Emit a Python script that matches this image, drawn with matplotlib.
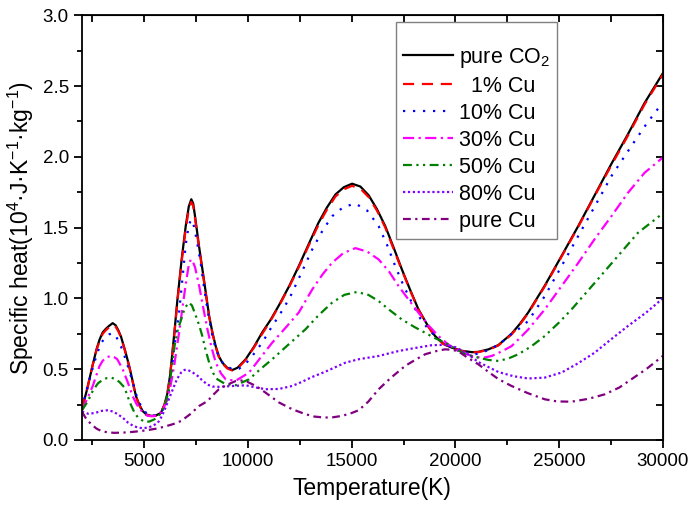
import numpy as np
import matplotlib.pyplot as plt
from matplotlib.ticker import MultipleLocator

plt.rcParams['font.family'] = ['Liberation Sans', 'DejaVu Sans']
plt.rcParams['mathtext.fontset'] = 'custom'
plt.rcParams['mathtext.rm'] = 'Liberation Sans'
plt.rcParams['mathtext.it'] = 'Liberation Sans'

# ---- data: T in K, Cp in 1e4 J/(K kg) ----
T_co2 = [2000, 2250, 2500, 2700, 2850, 3000, 3150, 3300, 3480, 3620,
         3750, 3880, 4080, 4280, 4450, 4600, 4760, 4920, 5100, 5320,
         5550, 5800, 5980, 6120, 6250, 6360, 6480, 6600, 6800, 7000,
         7150, 7270, 7360, 7450, 7640, 7880, 8130, 8300, 8450, 8600,
         8770, 9000, 9250, 9500, 9890, 10300, 10690, 11100, 11490, 12000,
         12450, 12950, 13400, 13800, 14220, 14620, 15020, 15420, 15820, 16220,
         16620, 17020, 17420, 17820, 18220, 18620, 19020, 19420, 19820, 20300,
         20800, 21100, 21600, 22070, 22710, 23110, 23510, 24310, 25120, 25920,
         26720, 27520, 28320, 29120, 30000]
cp_co2 = [0.22, 0.36, 0.52, 0.64, 0.71, 0.76, 0.785, 0.805, 0.825, 0.81,
          0.775, 0.73, 0.63, 0.52, 0.41, 0.31, 0.25, 0.205, 0.18, 0.17,
          0.172, 0.19, 0.25, 0.33, 0.46, 0.62, 0.80, 0.99, 1.27, 1.51,
          1.65, 1.70, 1.67, 1.58, 1.37, 1.13, 0.875, 0.75, 0.66, 0.59,
          0.545, 0.51, 0.494, 0.51, 0.57, 0.66, 0.76, 0.85, 0.95, 1.09,
          1.228, 1.39, 1.534, 1.64, 1.734, 1.785, 1.81, 1.79, 1.728, 1.63,
          1.51, 1.36, 1.205, 1.06, 0.922, 0.82, 0.734, 0.68, 0.652, 0.63,
          0.62, 0.622, 0.64, 0.67, 0.75, 0.82, 0.9, 1.09, 1.3, 1.51,
          1.73, 1.95, 2.16, 2.38, 2.59]

T_cu1 = T_co2
cp_cu1 = [0.22, 0.36, 0.52, 0.635, 0.70, 0.75, 0.775, 0.795, 0.815, 0.80,
          0.768, 0.725, 0.625, 0.515, 0.405, 0.305, 0.245, 0.2, 0.177, 0.168,
          0.17, 0.19, 0.25, 0.33, 0.455, 0.61, 0.79, 0.98, 1.255, 1.49,
          1.63, 1.68, 1.655, 1.565, 1.36, 1.12, 0.87, 0.745, 0.655, 0.585,
          0.54, 0.505, 0.49, 0.505, 0.565, 0.655, 0.75, 0.845, 0.945, 1.085,
          1.22, 1.38, 1.52, 1.625, 1.72, 1.77, 1.795, 1.775, 1.715, 1.62,
          1.50, 1.35, 1.20, 1.055, 0.92, 0.815, 0.73, 0.677, 0.65, 0.628,
          0.618, 0.62, 0.637, 0.667, 0.745, 0.815, 0.895, 1.085, 1.295, 1.505,
          1.725, 1.94, 2.15, 2.37, 2.58]

T_cu10 = [2000, 2270, 2500, 2750, 2950, 3100, 3300, 3480, 3650, 3880,
          4080, 4280, 4480, 4680, 4880, 5080, 5400, 5650, 5880, 6050,
          6200, 6320, 6440, 6560, 6680, 6850, 7000, 7150, 7270, 7380,
          7520, 7720, 7880, 8050, 8250, 8450, 8700, 8930, 9250, 9570,
          9900, 10210, 10700, 11170, 11490, 12000, 12450, 13100, 13600, 14060,
          14600, 15180, 15750, 16300, 16700, 17100, 17500, 17900, 18300, 18700,
          19200, 19670, 20200, 20790, 21250, 21750, 22230, 22710, 23110, 23510,
          24310, 25120, 25920, 26720, 27520, 28480, 29200, 30000]
cp_cu10 = [0.22, 0.38, 0.5, 0.62, 0.69, 0.72, 0.745, 0.755, 0.73, 0.66,
           0.58, 0.49, 0.39, 0.287, 0.23, 0.193, 0.168, 0.18, 0.21, 0.27,
           0.356, 0.48, 0.64, 0.77, 0.90, 1.15, 1.38, 1.52, 1.557, 1.52,
           1.42, 1.25, 1.08, 0.92, 0.76, 0.64, 0.56, 0.522, 0.5, 0.503,
           0.54, 0.593, 0.69, 0.805, 0.875, 1.0, 1.14, 1.346, 1.48, 1.58,
           1.645, 1.67, 1.62, 1.51, 1.38, 1.228, 1.09, 0.97, 0.86, 0.781,
           0.71, 0.664, 0.625, 0.60, 0.615, 0.645, 0.69, 0.75, 0.79, 0.84,
           1.016, 1.228, 1.44, 1.65, 1.863, 2.075, 2.23, 2.385]

T_cu30 = [2000, 2250, 2515, 2700, 2840, 3000, 3200, 3400, 3550, 3700,
          3960, 4200, 4440, 4640, 4840, 5160, 5450, 5720, 5950, 6120,
          6280, 6440, 6560, 6680, 6850, 7000, 7130, 7240, 7340, 7450,
          7650, 7850, 8050, 8250, 8450, 8700, 8930, 9410, 10050, 10600,
          11170, 11800, 12450, 13100, 13600, 14060, 14600, 15180, 15750, 16300,
          16800, 17260, 17750, 18220, 18700, 19180, 19650, 20150, 20950, 21400,
          21750, 22230, 22710, 23110, 23510, 24310, 25120, 25920, 26720, 27520,
          28320, 29120, 30000]
cp_cu30 = [0.21, 0.29, 0.38, 0.46, 0.52, 0.56, 0.585, 0.593, 0.585, 0.57,
           0.5, 0.41, 0.31, 0.25, 0.21, 0.17, 0.168, 0.18, 0.23, 0.287,
           0.39, 0.52, 0.64, 0.758, 0.94, 1.10, 1.22, 1.275, 1.26, 1.22,
           1.087, 0.93, 0.78, 0.65, 0.546, 0.47, 0.428, 0.418, 0.475, 0.58,
           0.687, 0.79, 0.90, 1.063, 1.17, 1.252, 1.32, 1.355, 1.33, 1.275,
           1.19, 1.087, 0.99, 0.899, 0.81, 0.734, 0.675, 0.628, 0.585, 0.582,
           0.593, 0.625, 0.663, 0.72, 0.78, 0.922, 1.087, 1.25, 1.42, 1.58,
           1.746, 1.887, 1.995]

T_cu50 = [2000, 2290, 2530, 2770, 3000, 3200, 3410, 3600, 3800, 4050,
          4220, 4380, 4540, 4700, 5020, 5250, 5500, 5750, 5980, 6150,
          6300, 6460, 6620, 6780, 6950, 7150, 7300, 7480, 7650, 7800,
          7950, 8130, 8330, 8530, 8930, 9410, 10050, 10600, 11170, 12000,
          12770, 13400, 14060, 14650, 15250, 15800, 16300, 16850, 17420, 18000,
          18540, 19000, 19500, 20000, 20470, 21110, 21600, 22070, 22550, 23030,
          23650, 24310, 25000, 25600, 26720, 27840, 28800, 30000]
cp_cu50 = [0.21, 0.275, 0.35, 0.40, 0.425, 0.437, 0.44, 0.43, 0.41, 0.37,
           0.3, 0.24, 0.19, 0.158, 0.127, 0.13, 0.146, 0.18, 0.24, 0.33,
           0.48, 0.663, 0.78, 0.85, 0.93, 0.97, 0.95, 0.88, 0.81, 0.734,
           0.64, 0.546, 0.47, 0.428, 0.393, 0.386, 0.428, 0.5, 0.57, 0.68,
           0.781, 0.88, 0.97, 1.025, 1.045, 1.025, 0.981, 0.915, 0.851, 0.80,
           0.757, 0.72, 0.687, 0.645, 0.605, 0.581, 0.565, 0.558, 0.575, 0.605,
           0.66, 0.734, 0.83, 0.922, 1.11, 1.3, 1.463, 1.6]

T_cu80 = [2000, 2300, 2610, 2950, 3250, 3500, 3740, 3980, 4220, 4460,
          4700, 4940, 5180, 5420, 5660, 5860, 6060, 6220, 6380, 6580,
          6780, 6950, 7100, 7300, 7580, 7800, 8060, 8300, 8600, 9250,
          9890, 10400, 10850, 11490, 12130, 12600, 13100, 13700, 14700, 15340,
          16300, 17260, 18000, 18860, 19500, 20000, 20470, 21110, 22070, 22800,
          23510, 24300, 25120, 25900, 26720, 27500, 28320, 29200, 30000]
cp_cu80 = [0.2, 0.185, 0.19, 0.205, 0.21, 0.2, 0.18, 0.155, 0.122, 0.1,
           0.087, 0.083, 0.087, 0.1, 0.122, 0.17, 0.24, 0.3, 0.358, 0.43,
           0.476, 0.495, 0.494, 0.48, 0.452, 0.42, 0.39, 0.377, 0.375, 0.381,
           0.386, 0.37, 0.358, 0.36, 0.381, 0.41, 0.445, 0.48, 0.546, 0.57,
           0.593, 0.628, 0.648, 0.669, 0.672, 0.655, 0.62, 0.55, 0.48, 0.45,
           0.434, 0.44, 0.476, 0.54, 0.617, 0.71, 0.805, 0.9, 1.0]

T_pure = [2000, 2200, 2450, 2700, 2930, 3250, 3570, 4000, 4380, 4800,
          5180, 5600, 5980, 6400, 6780, 7200, 7650, 8060, 8300, 8600,
          9000, 9410, 9650, 9890, 10400, 10850, 11490, 12130, 12770, 13200,
          13700, 14100, 14540, 15000, 15340, 15800, 16300, 16900, 17580, 18000,
          18540, 19000, 19500, 19850, 20150, 20600, 21110, 21600, 22070, 22710,
          23500, 24310, 24900, 25600, 26400, 27200, 27900, 28480, 29200, 30000]
cp_pure = [0.198, 0.15, 0.11, 0.08, 0.063, 0.053, 0.05, 0.052, 0.056, 0.062,
           0.07, 0.08, 0.094, 0.112, 0.134, 0.18, 0.24, 0.275, 0.315, 0.358,
           0.39, 0.416, 0.42, 0.416, 0.38, 0.334, 0.265, 0.217, 0.182, 0.165,
           0.158, 0.16, 0.17, 0.19, 0.21, 0.27, 0.358, 0.44, 0.523, 0.56,
           0.605, 0.625, 0.64, 0.637, 0.625, 0.58, 0.534, 0.48, 0.43, 0.381,
           0.33, 0.287, 0.272, 0.27, 0.29, 0.322, 0.37, 0.428, 0.5, 0.593]

fig = plt.figure(figsize=(6.89, 5.08), dpi=100)
ax = fig.add_axes([0.119, 0.134, 0.843, 0.836])

lw = 1.6
ax.plot(T_co2, cp_co2, color='black', lw=lw, ls='-', label='pure CO$_2$')
ax.plot(T_cu1, cp_cu1, color='#ff0000', lw=lw, ls=(0, (5, 3.5)), label='  1% Cu')
ax.plot(T_cu10, cp_cu10, color='#0000ff', lw=lw, ls=(0, (1, 3.5)), label='10% Cu')
ax.plot(T_cu30, cp_cu30, color='#ff00ff', lw=lw, ls=(0, (5, 2, 1, 2)), label='30% Cu')
ax.plot(T_cu50, cp_cu50, color='#008000', lw=lw, ls=(0, (4, 2, 1, 2, 1, 2)), label='50% Cu')
ax.plot(T_cu80, cp_cu80, color='#8000ff', lw=lw, ls=(0, (1, 1.2)), label='80% Cu')
ax.plot(T_pure, cp_pure, color='#800080', lw=lw, ls=(0, (3.5, 2, 1, 2)), label='pure Cu')

ax.set_xlim(2000, 30000)
ax.set_ylim(0, 3.0)
ax.xaxis.set_major_locator(MultipleLocator(5000))
ax.xaxis.set_minor_locator(MultipleLocator(2500))
ax.yaxis.set_major_locator(MultipleLocator(0.5))
ax.yaxis.set_minor_locator(MultipleLocator(0.25))
ax.yaxis.set_major_formatter(plt.FormatStrFormatter('%.1f'))
ax.tick_params(which='major', direction='out', length=6, width=1.3, labelsize=13.5)
ax.tick_params(which='minor', direction='out', length=3.5, width=1.3)
for s in ax.spines.values():
    s.set_linewidth(1.3)

# inward ticks on top and right, no labels
top = ax.secondary_xaxis('top')
top.xaxis.set_major_locator(MultipleLocator(5000))
top.xaxis.set_minor_locator(MultipleLocator(2500))
top.tick_params(which='both', direction='in', length=5, width=1.3, labeltop=False)
right = ax.secondary_yaxis('right')
right.yaxis.set_major_locator(MultipleLocator(0.5))
right.yaxis.set_minor_locator(MultipleLocator(0.25))
right.tick_params(which='both', direction='in', length=5, width=1.3, labelright=False)

ax.set_xlabel('Temperature(K)', fontsize=16.5, labelpad=5)
ax.set_ylabel('Specific heat(10$^4$·J·K$^{-1}$·kg$^{-1}$)', fontsize=16.5, labelpad=5)

leg = ax.legend(loc='upper left', bbox_to_anchor=(0.54, 0.984), fontsize=15.5,
                title=' ', title_fontsize=7,
                handlelength=2.3, handletextpad=0.28, labelspacing=0.28, borderpad=0.35,
                borderaxespad=0, fancybox=False, edgecolor='#808080', framealpha=1)
leg.get_frame().set_linewidth(1.0)

plt.savefig('out.png', dpi=100)
